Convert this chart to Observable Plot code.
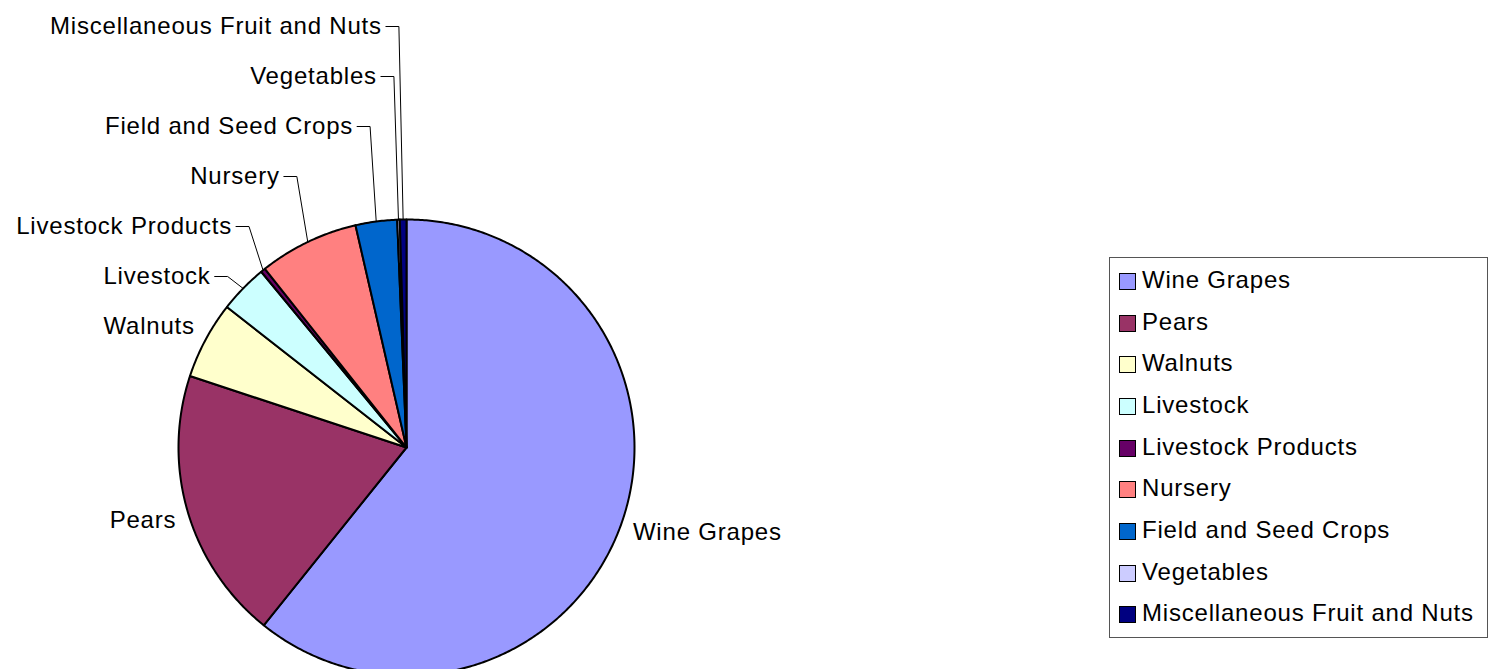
<!DOCTYPE html>
<html>
<head>
<meta charset="utf-8">
<script src="https://cdn.jsdelivr.net/npm/d3@7"></script>
<script src="https://cdn.jsdelivr.net/npm/@observablehq/plot@0.6"></script>
<style>
  body { margin: 0; background: #fff; font-family: "Liberation Sans", Arial, sans-serif; }
  #wrap { position: relative; width: 1495px; height: 669px; overflow: hidden; }
  #legend { position: absolute; left: 1109px; top: 257px; width: 377px; height: 378px;
            border: 1px solid #555; padding-top: 1px; background: #fff; }
  .row { height: 41.7px; display: flex; align-items: center; padding-left: 9px; }
  .sw { width: 17px; height: 17px; box-sizing: border-box; border: 1.5px solid #000;
        margin-right: 6px; position: relative; top: 1.5px; flex: none; }
  .lt { font-size: 24px; line-height: 24px; letter-spacing: 0.8px; color: #000; white-space: nowrap; }
</style>
</head>
<body>
<div id="wrap"><div id="chart"></div><div id="legend"></div></div>
<script>
// ---- data ----
const categories = ["Wine Grapes", "Pears", "Walnuts", "Livestock", "Livestock Products",
                    "Nursery", "Field and Seed Crops", "Vegetables", "Miscellaneous Fruit and Nuts"];
const shares = [60.75, 19.3, 5.49, 3.44, 0.33, 7.07, 2.94, 0.18, 0.47];
const colors = ["#9999FF", "#993366", "#FFFFCC", "#CCFFFF", "#660066",
                "#FF8080", "#0066CC", "#CCCCFF", "#000080"];

// ---- layout ----
const W = 1495, H = 669;
const CX = 406, CY = 447, R = 228;      // pie centre / radius (px)
const stackTop = 26, stackStep = 50, firstStacked = 2;

const arcs = d3.pie().sort(null).value(d => d)(shares);
const pt = (a, r) => ({x: CX + r * Math.sin(a), y: CY - r * Math.cos(a)});

const slicePts = [];
arcs.forEach((a, i) => {
  const name = categories[i];
  slicePts.push({name, x: CX, y: CY});
  const n = Math.max(2, Math.ceil((a.endAngle - a.startAngle) / (Math.PI / 360)));
  for (let k = 0; k <= n; k++) {
    const p = pt(a.startAngle + (a.endAngle - a.startAngle) * k / n, R);
    slicePts.push({name, ...p});
  }
  slicePts.push({name, x: CX, y: CY});
});

const labels = [], leaders = [];
const nCat = categories.length;
arcs.forEach((a, i) => {
  const mid = (a.startAngle + a.endAngle) / 2;
  const nat = pt(mid, R + 12);
  const right = Math.sin(mid) > 0;
  if (i < firstStacked) {
    labels.push({name: categories[i], x: nat.x, y: nat.y + 5, right});
  } else {
    const sy = stackTop + stackStep * (nCat - 1 - i);
    if (i === firstStacked) {
      labels.push({name: categories[i], x: nat.x, y: sy, right});
    } else {
      const e = pt(mid, R);
      const elbow = e.x - 4 - 16 * Math.abs(Math.sin(mid));
      labels.push({name: categories[i], x: elbow - 17, y: sy, right});
      leaders.push({name: categories[i], x: elbow - 13, y: sy});
      leaders.push({name: categories[i], x: elbow, y: sy});
      leaders.push({name: categories[i], x: e.x, y: e.y});
    }
  }
});

const chart = Plot.plot({
  width: W, height: H,
  margin: 0,
  x: {domain: [0, W], range: [0, W], axis: null},
  y: {domain: [0, H], range: [0, H], axis: null},
  color: {domain: categories, range: colors},
  style: {fontFamily: "'Liberation Sans', Arial, sans-serif", letterSpacing: "0.8px", background: "#fff"},
  marks: [
    Plot.line(slicePts, {x: "x", y: "y", z: "name", fill: "name", stroke: "#000",
                         strokeWidth: 2, strokeLinejoin: "round", curve: "linear"}),
    Plot.line(leaders, {x: "x", y: "y", z: "name", stroke: "#000", strokeWidth: 1}),
    Plot.text(labels.filter(d => !d.right), {x: "x", y: "y", text: "name", textAnchor: "end",
                                             fontSize: 24, fill: "#000"}),
    Plot.text(labels.filter(d => d.right), {x: "x", y: "y", text: "name", textAnchor: "start",
                                            fontSize: 24, fill: "#000"})
  ]
});
document.getElementById("chart").appendChild(chart);

const legend = document.getElementById("legend");
categories.forEach((c, i) => {
  const row = document.createElement("div");
  row.className = "row";
  const sw = document.createElement("div");
  sw.className = "sw";
  sw.style.background = colors[i];
  const t = document.createElement("span");
  t.className = "lt";
  t.textContent = c;
  row.appendChild(sw);
  row.appendChild(t);
  legend.appendChild(row);
});
</script>
</body>
</html>
